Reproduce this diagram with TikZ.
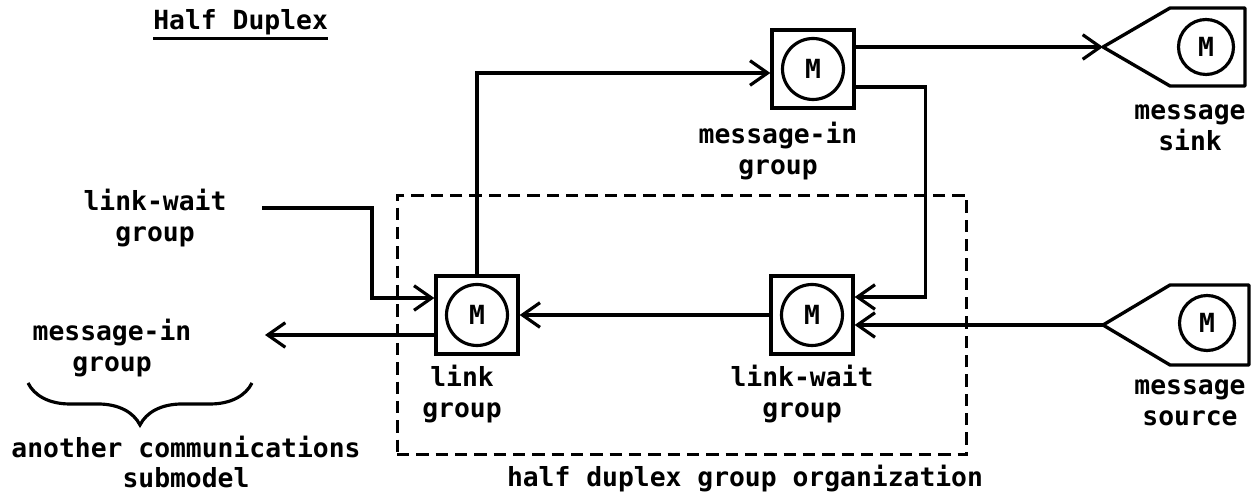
\documentclass[tikz,border=0pt]{standalone}
\usepackage{fontspec}
\setmainfont{DejaVu Sans Mono}
\usepackage{tikz}
\usetikzlibrary{arrows.meta}
\usetikzlibrary{decorations.pathreplacing}
\tikzstyle{grp_box}=[draw, line width=1.9pt, minimum width=1.64cm, minimum height=1.56cm]
\tikzstyle{grp_m}=[draw, circle, line width=1.8pt, minimum size=1.22cm, inner sep=0pt, lbl_font]
\tikzstyle{lbl_font}=[font=\fontsize{15}{17.6}\selectfont\bfseries]
\tikzstyle{lbl}=[align=center, inner sep=0pt, lbl_font]
\tikzstyle{flow}=[line width=1.8pt, -{Straight Barb[length=10pt,width=14pt]}]
\tikzstyle{port}=[line width=1.9pt, line join=round]
\tikzstyle{org}=[draw, line width=1.7pt, dash pattern=on 7pt off 4pt, minimum width=11.4cm, minimum height=5.18cm]

\begin{document}
\begin{tikzpicture}[x=0.02cm, y=-0.02cm]
          \useasboundingbox (0,0) rectangle (1254,492);
          \node[lbl, anchor=west] (title) at (153,22) {Half Duplex};
          \draw[line width=1.8pt] ([yshift=-2pt]title.south west) -- ([yshift=-2pt]title.south east);

          \node[org] (grp) at (682,325) {};
          \node[grp_box] (msgin) at (813,69) {};
          \node[grp_m] (msginm) at (msgin) {M};
          \node[grp_box] (link) at (477,315) {};
          \node[grp_m] (linkm) at (link) {M};
          \node[grp_box] (linkwait) at (812,315) {};
          \node[grp_m] (linkwaitm) at (linkwait) {M};

          \coordinate (sinktip) at (1103,47);
          \draw[port] (sinktip) -- ++(67,-39) -- ++(75,0) -- ++(0,78) -- ++(-75,0) -- cycle;
          \node[grp_m, minimum size=1.1cm] (sinkm) at (1206,47) {M};
          \coordinate (srctip) at (1103,325);
          \draw[port] (srctip) -- ++(67,-40) -- ++(79,0) -- ++(0,80) -- ++(-79,0) -- cycle;
          \node[grp_m, minimum size=1.1cm] (srcm) at (1207,323) {M};

          \node[lbl] (msginlbl) at (778,151) {message-in\\group};
          \node[lbl] (sinklbl) at (1190,128) {message\\sink};
          \node[lbl] (srclbl) at (1190,403) {message\\source};
          \node[lbl] (linklbl) at (462,394) {link\\group};
          \node[lbl] (linkwaitlbl) at (802,394) {link-wait\\group};
          \node[lbl] (lwextlbl) at (155,218) {link-wait\\group};
          \node[lbl] (msgextlbl) at (112,348) {message-in\\group};
          \node[lbl] (submodlbl) at (186,462) {another communications\\submodel};
          \node[lbl] (orglbl) at (745,479) {half duplex group organization};

          \coordinate (lwext) at (262,208);
          \coordinate (lwbend) at (372,298);
          \coordinate (msgext) at (265,335);
          \coordinate (bracel) at (28,383);
          \coordinate (bracer) at (252,383);

          \draw[flow] (link.north) |- ([yshift=-0.08cm]msgin.west);
          \draw[flow] (msgin.east |- sinktip) -- (sinktip);
          \draw[flow] ([yshift=-0.36cm]msgin.east) -- ++(70,0) |- ([yshift=0.36cm]linkwait.east);
          \draw[flow] (srctip) -- (srctip -| linkwait.east);
          \draw[flow] (linkwait.west) -- (link.east);
          \draw[flow] (msgext -| link.west) -- (msgext);
          \draw[flow] (lwext) -| (lwbend) -- (lwbend -| link.west);
          \draw[line width=1.8pt, decorate, decoration={brace, mirror, amplitude=0.84cm}] (bracel) -- (bracer);
        \end{tikzpicture}
\end{document}
